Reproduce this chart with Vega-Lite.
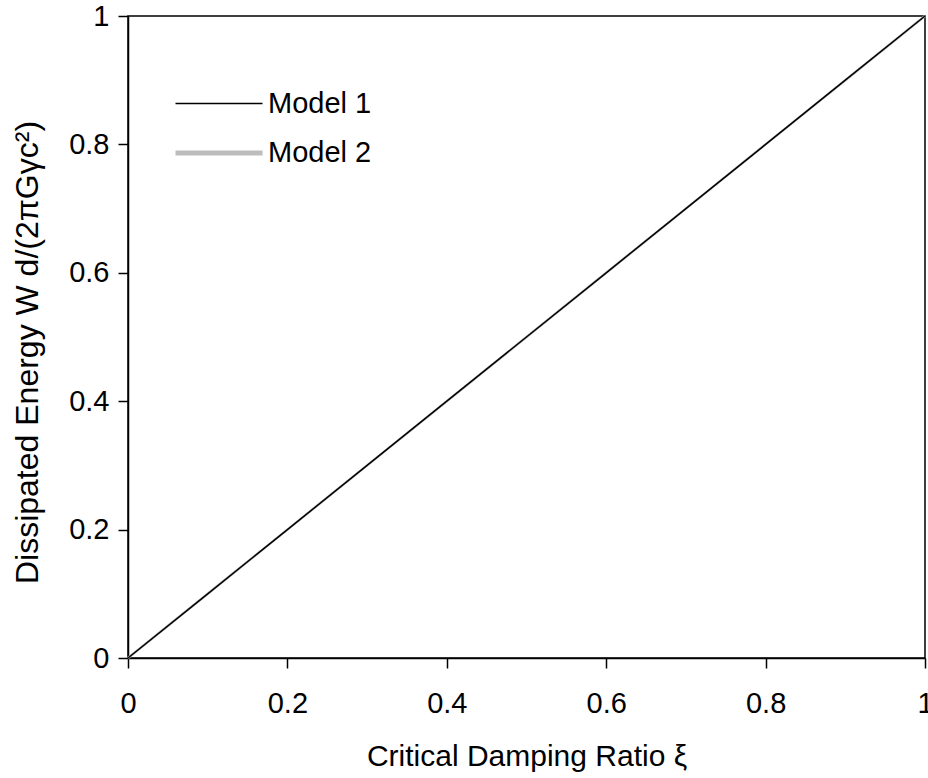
{
  "$schema": "https://vega.github.io/schema/vega-lite/v6.json",
  "width": 797,
  "height": 642,
  "autosize": {"type": "none"},
  "padding": {"left": 128, "top": 16, "right": 3, "bottom": 120},
  "background": "white",
  "config": {
    "font": "Liberation Sans",
    "view": {"stroke": "black", "strokeWidth": 1.5},
    "axis": {
      "grid": false,
      "domainColor": "black",
      "domainWidth": 1.5,
      "tickColor": "black",
      "tickWidth": 1.5,
      "tickSize": 10,
      "labelFont": "Liberation Sans",
      "labelFontSize": 29,
      "labelColor": "black",
      "titleFont": "Liberation Sans",
      "titleFontSize": 30,
      "titleFontWeight": "normal",
      "titleColor": "black"
    }
  },
  "data": {
    "values": [
      {"xi": 0.0, "w": 0.0, "model": "Model 1"},
      {"xi": 0.1, "w": 0.1, "model": "Model 1"},
      {"xi": 0.2, "w": 0.2, "model": "Model 1"},
      {"xi": 0.3, "w": 0.3, "model": "Model 1"},
      {"xi": 0.4, "w": 0.4, "model": "Model 1"},
      {"xi": 0.5, "w": 0.5, "model": "Model 1"},
      {"xi": 0.6, "w": 0.6, "model": "Model 1"},
      {"xi": 0.7, "w": 0.7, "model": "Model 1"},
      {"xi": 0.8, "w": 0.8, "model": "Model 1"},
      {"xi": 0.9, "w": 0.9, "model": "Model 1"},
      {"xi": 1.0, "w": 1.0, "model": "Model 1"},
      {"xi": 0.0, "w": 0.0, "model": "Model 2"},
      {"xi": 0.1, "w": 0.1, "model": "Model 2"},
      {"xi": 0.2, "w": 0.2, "model": "Model 2"},
      {"xi": 0.3, "w": 0.3, "model": "Model 2"},
      {"xi": 0.4, "w": 0.4, "model": "Model 2"},
      {"xi": 0.5, "w": 0.5, "model": "Model 2"},
      {"xi": 0.6, "w": 0.6, "model": "Model 2"},
      {"xi": 0.7, "w": 0.7, "model": "Model 2"},
      {"xi": 0.8, "w": 0.8, "model": "Model 2"},
      {"xi": 0.9, "w": 0.9, "model": "Model 2"},
      {"xi": 1.0, "w": 1.0, "model": "Model 2"}
    ]
  },
  "encoding": {
    "x": {
      "field": "xi", "type": "quantitative",
      "scale": {"domain": [0, 1], "nice": false},
      "axis": {"values": [0, 0.2, 0.4, 0.6, 0.8, 1], "format": "~g", "labelPadding": 21, "titlePadding": 23, "title": "Critical Damping Ratio ξ", "labelFlush": false}
    },
    "y": {
      "field": "w", "type": "quantitative",
      "scale": {"domain": [0, 1], "nice": false},
      "axis": {"values": [0, 0.2, 0.4, 0.6, 0.8, 1], "format": "~g", "labelPadding": 9, "titlePadding": 24, "titleY": 336, "titleFontSize": 32, "title": "Dissipated Energy W   d/(2πGγc²)", "labelFlush": false}
    },
    "color": {
      "field": "model", "type": "nominal",
      "scale": {"domain": ["Model 1", "Model 2"], "range": ["black", "#bdbdbd"]},
      "legend": {
        "title": null,
        "orient": "none",
        "legendX": 74,
        "legendY": 72,
        "symbolType": "M-3,0H3",
        "symbolSize": 841,
        "labelFontSize": 29,
        "labelColor": "black",
        "labelOffset": 32,
        "rowPadding": 17
      }
    },
    "strokeWidth": {
      "field": "model", "type": "nominal",
      "scale": {"domain": ["Model 1", "Model 2"], "range": [1.5, 5]},
      "legend": {
        "title": null,
        "orient": "none",
        "legendX": 74,
        "legendY": 72,
        "symbolType": "M-3,0H3",
        "symbolSize": 841,
        "labelFontSize": 29,
        "labelColor": "black",
        "labelOffset": 32,
        "rowPadding": 17
      }
    }
  },
  "layer": [
    {
      "transform": [{"filter": "datum.model === 'Model 2'"}],
      "mark": {"type": "line", "strokeWidth": 2.5}
    },
    {
      "transform": [{"filter": "datum.model === 'Model 1'"}],
      "mark": {"type": "line"}
    }
  ]
}
